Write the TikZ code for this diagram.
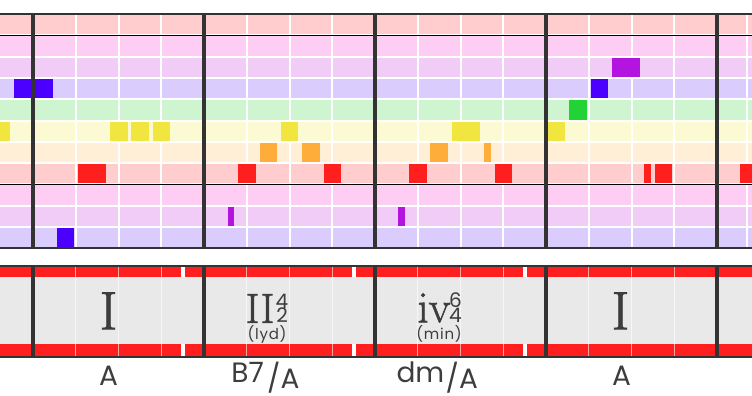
\documentclass[tikz,border=0pt]{standalone}
\usepackage{fontspec}
\usepackage{xcolor}
\usepackage{tikz}
\newfontfamily\chordfont{Poppins}
\newfontfamily\qualityfont{Poppins}[LetterSpace=5]
\newfontfamily\numeralfont{Latin Modern Roman}[FakeBold=1.2]

\definecolor{gridline}{HTML}{333333}
\definecolor{labelgray}{HTML}{3D3D3D}
\definecolor{bandgray}{HTML}{E9E9E9}
\definecolor{bandred}{HTML}{FF1F1F}
% note colours
\definecolor{noteRed}{HTML}{FF1F1F}
\definecolor{noteOrange}{HTML}{FFAD3A}
\definecolor{noteYellow}{HTML}{F1E63F}
\definecolor{noteGreen}{HTML}{22D336}
\definecolor{noteBlue}{HTML}{4B00FF}
\definecolor{notePurple}{HTML}{B414E0}
% lane colours
\definecolor{laneRed}{HTML}{FFCDCD}
\definecolor{laneMagenta}{HTML}{FDCDF3}
\definecolor{lanePurple}{HTML}{F0CCF6}
\definecolor{laneBlue}{HTML}{DACDFE}
\definecolor{laneGreen}{HTML}{CEF5D0}
\definecolor{laneYellow}{HTML}{FCFAD2}
\definecolor{laneOrange}{HTML}{FFEFD6}

\tikzset{
    measure/.style={draw=gridline, line width=4pt},
    beatline/.style={draw=white, line width=2pt},
    bandbeat/.style={draw=white, opacity=0.6, line width=1pt},
    numeral/.style={text=labelgray, inner sep=0pt},
    figure/.style={text=labelgray, inner sep=0pt, font=\chordfont\fontsize{20}{20}\selectfont},
    quality/.style={text=labelgray, inner sep=0pt, font=\qualityfont\fontsize{15}{15}\selectfont},
    chordname/.style={text=labelgray, inner sep=0pt, anchor=base, font=\chordfont\fontsize{28}{28}\selectfont}
}

% lane number, start, end, colour
\newcommand{\rollnote}[4]{\fill[#4] (#2,{14+21.3*#1+1}) rectangle (#3,{14+21.3*(#1+1)-1});}

\begin{document}
\begin{tikzpicture}[x=1pt, y=-1pt]
    \useasboundingbox (0,0) rectangle (752,396);

    % lanes
    \foreach \c [count=\k from 0] in {laneRed,laneMagenta,lanePurple,laneBlue,laneGreen,laneYellow,laneOrange,laneRed,laneMagenta,lanePurple,laneBlue}
        \fill[\c] (0,{14+21.3*\k+1}) rectangle (752,{14+21.3*(\k+1)-1});

    % beats
    \foreach \m in {0,...,4}
        \foreach \b in {1,2,3}
            \draw[beatline] ({33+171*\m+42.75*\b},14) -- ++(0,234);
    \draw[beatline] (747,14) -- (747,248);

    % notes
    \rollnote{3}{14}{53}{noteBlue}
    \rollnote{5}{0}{10}{noteYellow}
    \rollnote{5}{110}{128}{noteYellow}
    \rollnote{5}{131}{149}{noteYellow}
    \rollnote{5}{153}{170}{noteYellow}
    \rollnote{7}{78}{106}{noteRed}
    \rollnote{10}{57}{74}{noteBlue}
    \rollnote{9}{228}{234}{notePurple}
    \rollnote{7}{238}{256}{noteRed}
    \rollnote{6}{260}{277}{noteOrange}
    \rollnote{5}{281}{298}{noteYellow}
    \rollnote{6}{302}{320}{noteOrange}
    \rollnote{7}{324}{341}{noteRed}
    \rollnote{9}{398}{405}{notePurple}
    \rollnote{7}{409}{427}{noteRed}
    \rollnote{6}{430}{448}{noteOrange}
    \rollnote{5}{452}{480}{noteYellow}
    \rollnote{6}{484}{491}{noteOrange}
    \rollnote{7}{495}{512}{noteRed}
    \rollnote{5}{548}{565}{noteYellow}
    \rollnote{4}{569}{587}{noteGreen}
    \rollnote{3}{591}{608}{noteBlue}
    \rollnote{2}{612}{640}{notePurple}
    \rollnote{7}{644}{651}{noteRed}
    \rollnote{7}{655}{672}{noteRed}
    \rollnote{7}{740}{752}{noteRed}

    % octave lines and frame
    \draw[black, line width=1pt] (0,35.3) -- (752,35.3);
    \draw[black, line width=1.5pt] (0,184.4) -- (752,184.4);
    \draw[gridline, line width=2pt] (0,14) -- (752,14);
    \draw[gridline, line width=2pt] (0,248) -- (752,248);
    \foreach \x in {33,204,375,546,717}
        \draw[measure] (\x,13) -- (\x,249);

    % chord band
    \fill[bandgray] (0,266) rectangle (752,357);
    \fill[bandred] (0,267.3) rectangle (752,277.3);
    \fill[bandred] (0,344) rectangle (752,356);
    \foreach \x in {183,354,525} {
        \fill[white] ({\x-2},267.3) rectangle ({\x+2},277.3);
        \fill[white] ({\x-2},344) rectangle ({\x+2},356);
    }
    \foreach \m in {0,...,3}
        \foreach \b in {1,2,3}
            \draw[bandbeat] ({33+171*\m+42.75*\b},267) -- ++(0,89);
    \draw[gridline, line width=2.3pt] (0,266.2) -- (752,266.2);
    \draw[gridline, line width=2pt] (0,357) -- (752,357);
    \foreach \x in {33,204,375,546,717}
        \draw[measure] (\x,265) -- (\x,358);

    % roman numerals
    \node[numeral, anchor=base, font=\numeralfont\fontsize{54}{54}\selectfont] (rnOne) at (108.5,329.3) {I};
    \node[numeral, font=\numeralfont\fontsize{42}{42}\selectfont] (rnTwo) at (260,308.5) {II};
    \node[figure] (figTwoTop) at (282,301) {4};
    \node[figure] (figTwoBot) at (282,315) {2};
    \node[quality] (qualTwo) at (267,334) {(lyd)};
    \node[numeral, font=\numeralfont\fontsize{45}{45}\selectfont] (rnFour) at (434,308) {iv};
    \node[figure] (figFourTop) at (455.5,300.5) {6};
    \node[figure] (figFourBot) at (455.5,315) {4};
    \node[quality] (qualFour) at (439,334) {(min)};
    \node[numeral, anchor=base, font=\numeralfont\fontsize{54}{54}\selectfont] (rnLast) at (620.5,329.3) {I};

    % chord names
    \node[chordname] (nameOne) at (108.5,385) {A};
    \node[chordname, anchor=base east] (nameTwo) at (264,382.5) {B7};
    \node[chordname, anchor=base west] (bassTwo) at ([xshift=3pt, yshift=-5.5pt]nameTwo.base east) {/A};
    \node[chordname, anchor=base east] (nameThree) at (444.5,382) {dm};
    \node[chordname, anchor=base west] (bassThree) at ([xshift=1pt, yshift=-6pt]nameThree.base east) {/A};
    \node[chordname] (nameLast) at (621.5,385) {A};
\end{tikzpicture}
\end{document}
